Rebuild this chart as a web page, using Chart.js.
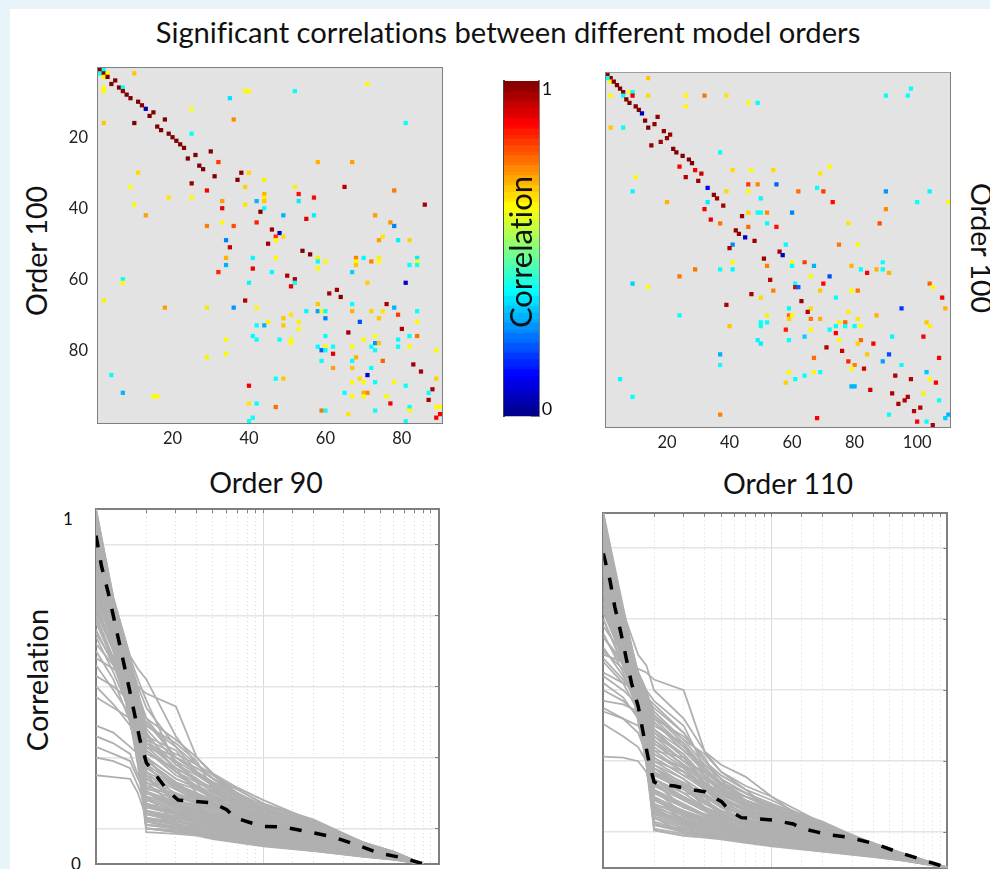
<!DOCTYPE html>
<html>
<head>
<meta charset="utf-8">
<script src="https://cdn.jsdelivr.net/npm/chart.js@4/dist/chart.umd.js"></script>
<style>
  html, body { margin: 0; padding: 0; background: #e9f3fa; overflow: hidden; }
  #page { position: absolute; left: 10px; top: 9px; width: 980px; height: 860px; background: #fff; }
  canvas { position: absolute; }
  .label { position: absolute; font-family: Lato, sans-serif; font-variant-ligatures: none; color: #111; white-space: nowrap; transform: translate(-50%, -50%); }
  .up { transform: translate(-50%, -50%) rotate(-90deg); }
  .down { transform: translate(-50%, -50%) rotate(90deg); }
</style>
</head>
<body>
<div id="page"></div>
<canvas id="heatLeft" width="394" height="393" style="left:58px;top:60px"></canvas>
<canvas id="heatRight" width="394" height="397" style="left:566px;top:60px"></canvas>
<canvas id="colorBar" width="60" height="351" style="left:494px;top:73px"></canvas>
<canvas id="curvesLeft" width="360" height="369" style="left:90px;top:500px"></canvas>
<canvas id="curvesRight" width="360" height="369" style="left:597px;top:500px"></canvas>
<div class="label" style="left:508px;top:31px;font-size:29.2px">Significant correlations between different model orders</div>
<div class="label up" style="left:36px;top:251px;font-size:28.5px">Order 100</div>
<div class="label down" style="left:982px;top:248px;font-size:28.5px">Order 100</div>
<div class="label" style="left:266px;top:482px;font-size:28.5px">Order 90</div>
<div class="label" style="left:788px;top:483px;font-size:28.5px">Order 110</div>
<div class="label up" style="left:36px;top:680px;font-size:29px">Correlation</div>
<div class="label up" style="left:520px;top:252px;font-size:31px">Correlation</div>
<div class="label" style="left:547px;top:88px;font-size:18px">1</div>
<div class="label" style="left:547px;top:408px;font-size:18px">0</div>
<div class="label" style="left:68px;top:518px;font-size:17px">1</div>
<div class="label" style="left:76px;top:863px;font-size:17px">0</div>
<script>
// significant cells: [column, row, correlation]
var leftCells = [
  [1,1,.98],[2,1,.38],[1,2,.4],[2,2,1],[3,2,.63],[10,2,.68],[2,3,.63],[3,3,1],[5,4,1],[4,5,1],[71,5,.63],
  [2,6,.63],[6,6,1],[7,6,.38],[2,7,.63],[7,7,.98],[39,7,.63],[40,7,.63],[52,7,.38],[8,8,1],[9,9,1],[35,9,.35],
  [11,10,1],[12,11,1],[13,12,.05],[25,12,.62],[15,13,1],[14,14,1],[18,15,1],[36,15,.74],[2,16,.68],[10,16,1],
  [81,16,.38],[16,17,1],[17,18,1],[19,19,1],[25,19,.38],[20,20,1],[21,21,1],[22,22,1],[23,23,1],[30,24,1],
  [26,25,1],[24,26,1],[32,27,.82],[58,27,.7],[67,27,.72],[27,28,1],[28,29,1],[11,30,.66],[38,30,1],[40,30,.66],
  [31,31,1],[37,32,1],[44,32,.64],[25,33,.98],[9,34,.62],[39,34,.67],[52,34,.64],[65,34,.95],[29,35,.88],[78,35,.76],
  [44,36,.7],[53,36,.86],[19,37,.65],[25,37,.63],[44,37,.64],[57,37,.87],[33,38,.72],[42,38,.3],[44,38,.68],[53,38,.36],
  [10,39,.63],[39,39,.65],[86,39,.96],[33,40,.9],[44,40,.38],[43,41,1],[13,42,.72],[49,42,.3],[57,42,.36],[73,42,.72],
  [55,43,.9],[33,44,.63],[42,44,.85],[77,44,.73],[29,45,.75],[36,45,.8],[78,45,.25],[46,46,.97],[48,47,.06],[47,48,.83],
  [49,48,.66],[75,48,.65],[34,49,.25],[47,49,.63],[74,49,.72],[79,49,.36],[82,49,.67],[45,50,.97],[35,51,.93],[54,52,1],
  [56,53,1],[34,54,.7],[41,54,.37],[47,54,.63],[58,54,.64],[68,54,.75],[70,54,.37],[74,54,.64],[84,54,.36],[58,55,.38],
  [60,55,.63],[68,55,.63],[72,55,.75],[74,55,.63],[84,55,.62],[34,56,.3],[68,56,.68],[82,56,.38],[84,56,.4],[41,57,.9],
  [58,57,.63],[32,58,.84],[46,58,.37],[67,58,.33],[50,59,.95],[7,60,.38],[52,60,.96],[7,61,.63],[40,61,.37],[52,61,.38],
  [71,61,.67],[81,61,.08],[51,62,.9],[63,63,.97],[61,64,.96],[64,65,1],[2,66,.64],[39,66,.95],[58,67,.68],[67,67,.38],
  [76,67,.96],[18,68,.72],[29,68,.65],[36,68,.27],[42,68,.63],[78,68,.3],[55,69,.37],[58,69,.28],[59,69,.63],[60,69,.38],
  [67,69,.7],[72,69,.67],[75,69,.65],[84,69,.38],[51,70,.65],[79,70,.82],[49,71,.68],[60,71,.25],[74,71,.68],[45,72,.64],
  [53,72,.64],[69,72,.2],[84,72,.63],[42,73,.38],[44,73,.3],[49,73,.68],[53,74,.63],[80,74,.95],[66,75,.97],[41,76,.37],
  [60,76,.38],[73,76,.62],[82,76,.38],[84,76,.76],[34,77,.63],[42,77,.38],[48,77,.38],[51,77,.63],[70,77,.63],[79,77,.38],
  [51,78,.63],[73,78,.27],[74,78,.68],[58,79,.38],[60,79,.63],[62,79,.38],[67,79,.63],[72,79,.38],[79,79,.38],[82,79,.63],
  [59,80,.22],[60,80,.38],[73,80,.38],[89,80,.63],[62,81,.9],[34,81,.63],[29,82,.64],[68,82,.7],[59,83,.38],[67,83,.38],
  [75,83,.78],[83,84,.97],[62,85,.72],[67,85,.68],[72,85,.38],[85,86,.96],[4,87,.38],[71,87,.08],[47,88,.38],[49,88,.68],
  [69,88,.66],[89,88,.67],[67,89,.63],[70,89,.63],[73,89,.38],[78,89,.63],[40,90,.89],[81,90,.38],[88,91,.96],[7,92,.3],
  [65,92,.38],[70,92,.7],[71,92,.74],[87,92,.38],[15,93,.63],[16,93,.63],[67,93,.63],[70,93,.63],[76,93,.63],[87,94,.96],
  [40,95,.65],[42,95,.38],[77,95,.88],[47,96,.77],[82,96,.38],[89,96,.63],[90,96,.63],[59,97,.76],[60,97,.38],[73,97,.38],
  [82,97,.63],[66,98,.65],[90,98,.88],[41,99,.38],[89,99,.88],[40,100,.38],[81,100,.38]
];
var rightCells = [
  [1,1,.98],[2,2,1],[1,2,.38],[14,2,.68],[2,3,.63],[3,3,1],[4,4,1],[5,5,1],[98,5,.38],[6,6,1],[8,6,.63],[9,6,.38],
  [2,7,.63],[6,7,.38],[9,7,.9],[14,7,.66],[26,7,.63],[32,7,.76],[39,7,.65],[90,7,.38],[97,7,.38],[7,8,1],[8,9,1],[46,9,.63],
  [49,9,.38],[10,10,1],[26,10,.63],[11,11,1],[12,12,.05],[17,13,.98],[13,14,1],[16,15,.98],[14,16,1],[2,16,.68],[6,16,.38],
  [19,17,.98],[21,18,.97],[20,19,.98],[18,20,.97],[15,21,.98],[22,22,1],[23,23,1],[37,23,.38],[25,24,1],[27,25,1],[28,26,1],
  [24,27,.88],[72,27,.63],[29,28,.88],[41,28,.66],[47,28,.63],[54,28,.66],[31,29,.93],[69,29,.65],[10,30,.63],[26,30,.95],
  [30,31,.97],[46,32,.82],[49,32,.74],[55,32,.22],[33,33,.12],[68,33,.38],[9,34,.37],[39,34,.66],[46,34,.63],[62,34,.77],
  [70,34,.82],[90,34,.27],[104,34,.37],[35,35,.98],[36,36,.97],[50,36,.37],[20,37,.7],[33,37,.36],[73,37,.87],[100,37,.38],
  [110,37,.63],[38,38,.97],[32,39,.88],[90,39,.74],[46,40,.67],[49,40,.38],[50,40,.38],[52,40,.74],[60,40,.25],[44,41,.97],
  [34,42,.9],[37,43,.76],[52,43,.38],[78,43,.65],[88,43,.8],[46,44,.77],[55,44,.86],[42,45,.98],[43,46,.98],[45,47,.06],
  [48,48,.97],[41,49,.26],[58,49,.37],[75,49,.76],[81,49,.63],[40,50,.96],[56,51,.96],[57,52,.06],[51,53,.97],[41,54,.63],
  [60,54,.63],[64,54,.82],[89,54,.38],[52,55,.75],[60,55,.38],[67,55,.3],[79,55,.7],[29,56,.76],[37,56,.38],[41,56,.37],
  [82,56,.38],[87,56,.7],[89,56,.38],[84,57,.88],[91,57,.7],[24,58,.76],[66,58,.63],[72,58,.2],[53,59,.95],[9,60,.33],
  [61,60,.38],[70,60,.87],[104,60,.78],[14,61,.63],[61,61,.9],[62,61,.22],[105,61,.63],[54,62,.75],[69,62,.68],[79,62,.63],
  [81,62,.76],[47,63,.96],[50,64,.66],[74,64,.38],[108,64,.88],[63,65,.97],[39,66,.95],[59,67,.37],[66,67,.66],[95,67,.18],
  [109,67,.7],[65,68,.95],[78,68,.64],[24,69,.38],[52,69,.64],[59,69,.77],[60,69,.63],[87,69,.7],[59,70,.67],[66,70,.76],
  [69,70,.7],[81,70,.65],[50,71,.38],[52,71,.38],[75,71,.64],[77,71,.78],[103,71,.68],[40,72,.68],[50,72,.38],[74,72,.38],
  [77,72,.38],[80,72,.38],[82,72,.63],[104,72,.64],[58,73,.85],[66,73,.63],[72,73,.38],[74,74,.88],[64,75,.33],[92,75,.37],
  [102,75,.88],[49,76,.37],[59,76,.38],[75,76,.63],[82,76,.78],[50,77,.36],[81,77,.67],[86,77,.88],[71,78,.95],[76,79,.93],
  [37,80,.3],[84,80,.68],[91,80,.2],[67,81,.77],[107,81,.88],[78,82,.84],[89,82,.28],[37,83,.38],[80,83,.75],[95,83,.38],
  [79,84,.63],[83,84,.92],[59,85,.63],[67,85,.63],[69,85,.38],[103,85,.32],[93,86,.95],[64,86,.38],[5,87,.37],[61,87,.38],
  [98,87,.95],[104,87,.63],[58,88,.67],[106,88,.88],[79,89,.3],[80,89,.3],[85,90,.93],[92,91,.95],[102,91,.64],[9,92,.38],
  [97,92,.95],[96,93,.95],[107,93,.38],[94,94,.95],[101,95,.95],[99,96,.94],[37,97,.75],[91,97,.38],[110,97,.3],[68,98,.88],
  [109,98,.33],[100,99,.88],[103,99,.38],[105,100,.95]
];

var xTicksLeft = [20, 40, 60, 80];
var xTicksRight = [20, 40, 60, 80, 100];
var yTicksHeat = [20, 40, 60, 80];
var corrGrid = [.1, .3, .5, .7, .9];

var colorLevels = [
  .01,.02,.04,.05,.07,.09,.10,.12,.13,.15,.16,.18,.20,.21,.23,.24,
  .26,.27,.29,.30,.32,.34,.35,.37,.38,.40,.41,.43,.45,.46,.48,.49,
  .51,.52,.54,.55,.57,.59,.60,.62,.63,.65,.66,.68,.70,.71,.73,.74,
  .76,.77,.79,.80,.82,.84,.85,.87,.88,.90,.91,.93,.95,.96,.98,.99
];

// sorted correlations per component, order 90
var rankLeft = [1, 1.27, 1.6, 1.78, 2, 3, 4, 5, 7, 10, 20, 40, 60, 90];
var curvesLeft = [
  [.98,.72,.42,.28,.09,.085,.08,.07,.06,.05,.036,.02,.012,0],
  [.96,.70,.40,.30,.10,.09,.082,.072,.062,.052,.037,.021,.013,0],
  [.97,.74,.45,.30,.10,.095,.09,.078,.066,.055,.04,.022,.014,0],
  [.93,.68,.44,.30,.11,.10,.09,.08,.07,.058,.04,.023,.014,0],
  [.99,.73,.47,.32,.12,.10,.095,.085,.072,.06,.043,.024,.015,0],
  [.90,.66,.42,.30,.125,.11,.10,.09,.075,.062,.045,.025,.015,0],
  [.95,.71,.46,.33,.13,.115,.10,.09,.08,.065,.046,.026,.016,0],
  [.88,.65,.43,.31,.14,.12,.11,.095,.082,.068,.048,.027,.016,0],
  [.92,.69,.48,.35,.145,.13,.115,.10,.085,.07,.05,.028,.017,0],
  [.85,.63,.41,.30,.15,.135,.12,.105,.088,.072,.052,.029,.017,0],
  [.97,.72,.50,.36,.16,.14,.125,.11,.09,.075,.053,.03,.018,0],
  [.80,.62,.42,.31,.165,.145,.13,.115,.095,.078,.055,.03,.018,0],
  [.94,.70,.49,.38,.17,.15,.135,.12,.10,.08,.056,.031,.019,0],
  [.77,.61,.44,.33,.18,.155,.14,.125,.103,.083,.058,.032,.019,0],
  [.91,.68,.51,.40,.185,.16,.145,.13,.107,.085,.06,.033,.02,0],
  [1.0,.74,.53,.39,.19,.165,.15,.13,.11,.088,.062,.034,.02,0],
  [.86,.67,.47,.36,.20,.17,.155,.135,.113,.09,.064,.035,.021,0],
  [.74,.60,.43,.33,.205,.175,.16,.14,.115,.092,.066,.036,.021,0],
  [.96,.72,.52,.42,.215,.18,.165,.145,.12,.095,.068,.037,.022,0],
  [.82,.64,.46,.36,.22,.19,.17,.15,.125,.098,.07,.038,.022,0],
  [.68,.57,.42,.35,.23,.195,.175,.155,.128,.10,.072,.039,.023,0],
  [.89,.68,.50,.41,.24,.20,.18,.16,.13,.105,.074,.04,.023,0],
  [.64,.54,.43,.34,.25,.21,.185,.165,.135,.11,.076,.041,.024,0],
  [.93,.70,.54,.44,.26,.215,.19,.17,.14,.112,.078,.042,.024,0],
  [.60,.52,.40,.33,.27,.22,.195,.175,.145,.115,.08,.043,.025,0],
  [.78,.62,.47,.38,.28,.225,.20,.18,.15,.118,.082,.044,.025,0],
  [.56,.49,.42,.36,.29,.23,.21,.185,.155,.12,.085,.045,.026,0],
  [.98,.73,.55,.46,.30,.24,.215,.19,.16,.125,.088,.046,.026,0],
  [.50,.45,.39,.34,.30,.24,.215,.195,.165,.13,.09,.047,.027,0],
  [.71,.60,.49,.40,.32,.25,.22,.20,.17,.135,.092,.048,.028,0],
  [.66,.56,.44,.38,.33,.26,.23,.205,.175,.14,.095,.05,.029,0],
  [.84,.66,.52,.44,.34,.27,.24,.21,.18,.145,.10,.052,.03,0],
  [.47,.44,.41,.38,.35,.27,.235,.215,.185,.15,.105,.054,.031,0],
  [.62,.56,.50,.42,.36,.28,.25,.22,.19,.155,.11,.056,.032,0],
  [.90,.70,.56,.47,.38,.29,.255,.225,.195,.16,.115,.058,.034,0],
  [.53,.50,.46,.42,.40,.30,.26,.23,.20,.165,.12,.06,.035,0],
  [1.0,.75,.585,.55,.52,.36,.28,.24,.21,.17,.125,.06,.035,0],
  [.58,.55,.52,.50,.48,.444,.30,.255,.215,.18,.12,.055,.03,0],
  [.39,.37,.33,.31,.27,.22,.19,.17,.14,.11,.08,.04,.025,0],
  [.33,.31,.29,.24,.20,.17,.15,.13,.11,.09,.065,.035,.02,0],
  [.30,.29,.27,.22,.16,.14,.13,.115,.10,.08,.055,.03,.018,0],
  [.25,.245,.24,.20,.13,.12,.105,.095,.08,.065,.05,.028,.016,0],
  [.36,.34,.31,.25,.18,.15,.13,.12,.10,.085,.06,.032,.018,0],
  [.69,.58,.46,.36,.15,.13,.12,.105,.09,.075,.05,.028,.016,0],
  [.76,.62,.40,.28,.11,.10,.09,.08,.068,.055,.04,.022,.014,0],
  [.99,.74,.50,.33,.14,.125,.11,.10,.085,.068,.048,.026,.016,0],
  [.97,.73,.48,.30,.10,.09,.085,.075,.064,.053,.038,.021,.013,0],
  [.94,.71,.52,.37,.17,.145,.13,.115,.098,.08,.056,.03,.018,0],
  [.87,.66,.45,.32,.12,.105,.095,.085,.072,.06,.042,.024,.015,0],
  [.95,.72,.49,.34,.20,.16,.145,.13,.105,.088,.06,.033,.02,0],
  [.97,.74,.57,.50,.44,.33,.26,.22,.17,.13,.085,.05,.03,0],
  [.92,.72,.56,.48,.41,.30,.27,.24,.20,.15,.09,.045,.028,0],
  [.99,.75,.58,.52,.46,.28,.24,.20,.18,.16,.11,.055,.032,0],
  [.88,.70,.55,.47,.39,.34,.29,.21,.16,.12,.08,.04,.024,0],
  [.95,.73,.56,.49,.36,.32,.25,.23,.19,.14,.095,.05,.03,0],
  [.84,.68,.54,.45,.37,.26,.22,.19,.15,.12,.075,.038,.023,0],
  [.91,.72,.55,.46,.35,.31,.28,.25,.21,.17,.115,.058,.034,0],
  [.79,.64,.52,.44,.33,.29,.23,.17,.14,.10,.07,.035,.021,0],
  [.96,.73,.53,.43,.31,.27,.20,.16,.13,.09,.06,.032,.02,0],
  [.86,.69,.51,.41,.29,.23,.19,.18,.16,.14,.10,.05,.03,0],
  [.75,.62,.50,.42,.30,.21,.18,.15,.12,.085,.055,.03,.018,0],
  [.93,.71,.50,.40,.28,.19,.17,.16,.14,.125,.09,.045,.027,0],
  [.72,.60,.48,.39,.26,.18,.16,.14,.115,.095,.07,.037,.022,0],
  [.98,.74,.49,.38,.25,.17,.14,.12,.11,.10,.075,.04,.024,0],
  [.83,.66,.47,.37,.23,.16,.15,.14,.13,.11,.082,.044,.026,0],
  [.90,.69,.46,.36,.21,.20,.17,.12,.10,.083,.058,.03,.018,0],
  [.70,.58,.45,.35,.24,.18,.13,.11,.09,.07,.05,.027,.017,0],
  [.94,.71,.47,.35,.19,.12,.11,.10,.09,.085,.065,.035,.021,0],
  [.81,.65,.44,.34,.17,.14,.12,.11,.10,.09,.068,.036,.022,0],
  [.88,.67,.45,.33,.19,.17,.15,.135,.12,.10,.07,.038,.023,0],
  [.73,.60,.41,.32,.14,.13,.12,.115,.10,.087,.065,.034,.02,0],
  [.96,.72,.44,.31,.13,.11,.105,.095,.09,.08,.06,.033,.02,0],
  [.78,.63,.40,.29,.11,.105,.10,.09,.08,.07,.05,.027,.016,0],
  [.99,.73,.43,.29,.10,.095,.085,.08,.07,.065,.047,.025,.015,0],
  [.91,.68,.43,.30,.16,.15,.14,.12,.11,.095,.072,.04,.024,0],
  [.85,.65,.48,.39,.27,.22,.20,.17,.15,.135,.095,.048,.029,0],
  [.77,.62,.49,.41,.32,.26,.21,.19,.17,.15,.105,.052,.031,0],
  [.98,.73,.54,.47,.34,.30,.26,.23,.20,.16,.105,.053,.031,0],
  [.87,.68,.53,.45,.39,.33,.28,.24,.19,.155,.10,.05,.03,0],
  [.65,.57,.51,.46,.41,.35,.30,.25,.20,.14,.085,.042,.026,0]
];
var meanXLeft = [1, 1.08, 1.185, 1.27, 1.378, 1.6, 1.83, 2, 2.7, 3.1, 5, 6.04, 6.77, 8.3, 10, 13.2, 19, 26.2, 36.1, 48.7, 68.6, 90.4];
var meanLeft = [.925, .838, .763, .698, .623, .482, .35, .285, .205, .18, .172, .153, .13, .117, .106, .104, .09, .076, .054, .031, .017, 0];

// same for order 110
var rankRight = [1, 1.31, 1.61, 1.8, 2, 3, 4, 5, 7, 10, 20, 40, 60, 110];
var curvesRight = [
  [.98,.66,.42,.29,.105,.09,.085,.08,.07,.06,.045,.03,.02,0],
  [.95,.65,.41,.30,.11,.095,.088,.082,.072,.062,.046,.031,.021,0],
  [.90,.62,.44,.31,.12,.10,.09,.084,.075,.065,.048,.032,.022,0],
  [.97,.68,.46,.31,.13,.105,.095,.088,.078,.067,.05,.033,.022,0],
  [.86,.60,.42,.32,.14,.11,.10,.09,.08,.07,.052,.034,.023,0],
  [.93,.67,.48,.33,.15,.12,.105,.095,.084,.072,.054,.035,.023,0],
  [.82,.61,.44,.34,.16,.125,.11,.10,.088,.075,.056,.036,.024,0],
  [1.0,.70,.49,.35,.165,.13,.115,.105,.09,.078,.058,.037,.025,0],
  [.78,.59,.43,.34,.17,.14,.125,.11,.095,.08,.06,.038,.025,0],
  [.91,.66,.50,.37,.18,.145,.13,.115,.098,.083,.062,.04,.026,0],
  [.74,.58,.45,.36,.19,.15,.135,.12,.102,.086,.064,.041,.026,0],
  [.96,.70,.52,.40,.20,.16,.14,.125,.106,.09,.066,.043,.027,0],
  [.70,.57,.46,.38,.21,.17,.145,.13,.11,.093,.068,.044,.028,0],
  [.88,.66,.51,.41,.22,.18,.15,.135,.115,.096,.07,.046,.028,0],
  [.66,.55,.44,.37,.23,.19,.16,.14,.12,.10,.073,.047,.029,0],
  [.99,.71,.53,.43,.24,.20,.165,.145,.125,.105,.076,.049,.03,0],
  [.62,.54,.46,.39,.25,.21,.17,.15,.13,.11,.08,.05,.031,0],
  [.84,.64,.50,.42,.26,.22,.18,.155,.135,.115,.083,.052,.032,0],
  [.58,.52,.44,.38,.27,.23,.19,.16,.14,.12,.086,.054,.033,0],
  [.94,.68,.53,.45,.28,.24,.20,.17,.145,.125,.09,.056,.034,0],
  [.54,.50,.46,.41,.30,.25,.21,.175,.15,.13,.093,.058,.035,0],
  [.80,.62,.48,.42,.31,.26,.22,.18,.155,.135,.096,.06,.036,0],
  [.50,.47,.43,.38,.32,.27,.22,.19,.16,.14,.10,.062,.037,0],
  [1.0,.735,.54,.46,.34,.28,.23,.20,.165,.145,.105,.064,.038,0],
  [.47,.46,.44,.40,.35,.29,.24,.21,.17,.15,.11,.066,.039,0],
  [.72,.60,.50,.44,.37,.30,.25,.22,.18,.155,.115,.068,.04,0],
  [.61,.56,.48,.45,.39,.31,.26,.225,.19,.16,.12,.069,.04,0],
  [.76,.63,.54,.49,.41,.33,.27,.23,.20,.17,.125,.069,.04,0],
  [.68,.60,.55,.50,.43,.35,.28,.24,.21,.18,.13,.065,.04,0],
  [.55,.52,.50,.48,.45,.38,.30,.26,.22,.19,.12,.06,.035,0],
  [.89,.72,.60,.57,.50,.42,.327,.27,.23,.20,.125,.065,.038,0],
  [.60,.58,.56,.55,.53,.50,.327,.29,.256,.20,.097,.06,.035,0],
  [.405,.37,.34,.30,.21,.17,.15,.135,.11,.095,.07,.045,.028,0],
  [.313,.31,.30,.27,.18,.15,.13,.12,.10,.085,.062,.04,.026,0],
  [.45,.42,.38,.32,.19,.155,.135,.125,.105,.09,.065,.042,.027,0],
  [.52,.48,.42,.35,.25,.20,.17,.15,.125,.105,.075,.048,.03,0],
  [.98,.69,.47,.33,.125,.10,.092,.085,.075,.064,.048,.032,.021,0],
  [.92,.64,.45,.32,.145,.115,.102,.092,.082,.07,.052,.034,.023,0],
  [.87,.63,.47,.36,.175,.135,.12,.108,.092,.08,.059,.038,.025,0],
  [.96,.69,.50,.38,.155,.125,.112,.10,.086,.074,.055,.036,.024,0],
  [.83,.62,.49,.40,.215,.175,.15,.13,.112,.095,.07,.045,.028,0],
  [.99,.72,.51,.39,.195,.155,.14,.122,.104,.088,.065,.042,.027,0],
  [.75,.60,.47,.40,.235,.195,.165,.145,.122,.102,.075,.048,.03,0],
  [.85,.65,.52,.44,.265,.225,.185,.16,.138,.118,.085,.053,.033,0],
  [.73,.59,.50,.42,.29,.235,.205,.175,.148,.128,.092,.057,.035,0],
  [.90,.68,.55,.47,.33,.27,.225,.195,.162,.142,.102,.063,.038,0],
  [.59,.53,.47,.43,.36,.285,.24,.205,.175,.15,.108,.065,.04,0],
  [.65,.57,.51,.46,.38,.32,.255,.215,.185,.158,.112,.067,.04,0],
  [.95,.70,.55,.49,.42,.34,.275,.235,.20,.165,.118,.068,.04,0],
  [.44,.42,.40,.36,.28,.22,.18,.16,.135,.112,.082,.05,.032,0],
  [.97,.70,.52,.48,.46,.38,.30,.25,.21,.17,.11,.065,.038,0],
  [.92,.68,.53,.49,.44,.36,.32,.27,.22,.16,.10,.06,.035,0],
  [.99,.72,.55,.50,.47,.40,.28,.24,.19,.15,.12,.068,.04,0],
  [.88,.66,.51,.47,.42,.37,.31,.23,.18,.14,.095,.055,.034,0],
  [.95,.71,.54,.48,.40,.35,.26,.22,.20,.175,.115,.066,.039,0],
  [.84,.64,.50,.46,.39,.33,.29,.25,.17,.13,.09,.052,.032,0],
  [.91,.69,.52,.46,.37,.32,.24,.21,.19,.16,.105,.062,.036,0],
  [.79,.62,.49,.45,.36,.30,.27,.20,.16,.125,.085,.05,.03,0],
  [.96,.70,.51,.44,.35,.29,.25,.19,.15,.12,.08,.048,.03,0],
  [.86,.65,.49,.43,.33,.31,.23,.21,.18,.15,.10,.058,.035,0],
  [.75,.60,.47,.42,.32,.28,.22,.18,.14,.11,.078,.046,.029,0],
  [.93,.68,.48,.41,.31,.26,.24,.17,.13,.10,.072,.044,.028,0],
  [.72,.59,.45,.40,.29,.25,.19,.16,.13,.105,.078,.047,.029,0],
  [.98,.71,.50,.41,.28,.23,.17,.15,.12,.095,.07,.043,.027,0],
  [.83,.63,.46,.39,.27,.21,.20,.14,.12,.10,.075,.046,.029,0],
  [.90,.66,.47,.38,.25,.19,.16,.13,.11,.09,.066,.04,.026,0],
  [.70,.57,.44,.37,.24,.17,.15,.14,.125,.11,.08,.05,.03,0],
  [.94,.69,.48,.37,.22,.15,.13,.12,.105,.09,.067,.042,.027,0],
  [.81,.62,.45,.35,.20,.13,.12,.11,.10,.085,.062,.04,.026,0],
  [.88,.65,.46,.35,.19,.16,.14,.125,.11,.097,.072,.047,.029,0],
  [.73,.58,.43,.33,.17,.12,.11,.10,.09,.08,.058,.037,.024,0],
  [.96,.68,.45,.33,.15,.14,.125,.115,.095,.082,.06,.039,.025,0],
  [.78,.60,.42,.31,.14,.10,.095,.09,.082,.07,.052,.034,.023,0],
  [.99,.69,.44,.31,.12,.11,.10,.09,.08,.068,.05,.033,.022,0],
  [.91,.65,.43,.30,.16,.135,.12,.11,.10,.088,.066,.042,.027,0],
  [.85,.63,.47,.39,.26,.23,.20,.17,.15,.13,.09,.055,.034,0],
  [.77,.60,.48,.41,.30,.27,.23,.19,.165,.14,.10,.06,.037,0],
  [.98,.71,.53,.46,.38,.31,.26,.22,.19,.165,.11,.064,.038,0],
  [.87,.66,.52,.47,.41,.34,.28,.24,.20,.17,.115,.066,.039,0],
  [.65,.58,.50,.46,.43,.36,.29,.25,.21,.18,.12,.067,.04,0]
];
var meanXRight = [1, 1.095, 1.17, 1.267, 1.375, 1.472, 1.613, 1.727, 1.874, 2, 2.12, 2.66, 3.12, 4, 4.29, 5.03, 5.64, 6.6, 7.75, 10.2, 13.4, 15, 18.4, 21.1, 29, 41.8, 57.4, 78.9, 110];
var meanRight = [.885, .81, .735, .665, .585, .519, .4535, .378, .294, .242, .235, .23, .2225, .214, .205, .186, .16, .141, .139, .134, .123, .111, .101, .094, .085, .066, .042, .022, 0];

var frameColor = '#7f7f7f';
var tickFont = { family: 'Lato, sans-serif', size: 16.5 };

// jet colour map
function jet(v) {
  var c = function (d) { return Math.round(255 * Math.max(0, Math.min(1, 1.5 - Math.abs(4 * v - d)))) };
  return 'rgb(' + c(3) + ',' + c(2) + ',' + c(1) + ')';
}

// fixed axis size, and no extra room for overhanging labels
function fixSize(size) {
  return function (scale) {
    if (scale.isHorizontal()) scale.height = size; else scale.width = size;
    scale.paddingLeft = scale.paddingRight = scale.paddingTop = scale.paddingBottom = 0;
  };
}

function setTicks(values) {
  return function (scale) {
    scale.ticks = values.map(function (v) { return { value: v } });
  };
}

function frameAxis(position, extra) {
  var axis = {
    type: 'linear',
    position: position,
    afterFit: fixSize(0),
    ticks: { display: false },
    grid: { drawOnChartArea: false, drawTicks: true, tickLength: -4, color: frameColor },
    border: { color: frameColor, width: 2 }
  };
  return Object.assign(axis, extra);
}

// grey plot background
var plotBackground = {
  id: 'plotBackground',
  beforeDatasetsDraw: function (chart) {
    var a = chart.chartArea;
    chart.ctx.fillStyle = '#e3e3e3';
    chart.ctx.fillRect(a.left, a.top, a.width, a.height);
  }
};

function heatChart(id, cells, nCols, xTicks, showY, top) {
  new Chart(document.getElementById(id), {
    type: 'scatter',
    plugins: [plotBackground],
    data: {
      datasets: [{
        data: cells.map(function (c) { return { x: c[0], y: c[1] } }),
        pointStyle: 'rect',
        pointRadius: 3,
        pointBorderWidth: 0,
        pointBackgroundColor: cells.map(function (c) { return jet(c[2]) })
      }]
    },
    options: {
      responsive: false,
      animation: false,
      layout: { padding: { left: 0, top: top, right: 10, bottom: 0 } },
      plugins: { legend: { display: false }, tooltip: { enabled: false } },
      scales: {
        x: {
          type: 'linear', min: .5, max: nCols + .5,
          afterBuildTicks: setTicks(xTicks),
          afterFit: fixSize(30),
          ticks: { color: '#222', font: tickFont, padding: 10, maxRotation: 0, autoSkip: false },
          grid: { drawOnChartArea: false, tickLength: -4, color: frameColor },
          border: { color: frameColor, width: 2 }
        },
        y: {
          type: 'linear', reverse: true, min: .5, max: 100.5,
          afterBuildTicks: setTicks(yTicksHeat),
          afterFit: fixSize(40),
          ticks: { display: showY, color: '#222', font: tickFont, padding: 14, autoSkip: false },
          grid: { drawOnChartArea: false, tickLength: -4, color: frameColor },
          border: { color: frameColor, width: 2 }
        },
        xTop: frameAxis('top', { min: .5, max: nCols + .5, afterBuildTicks: setTicks(xTicks) }),
        yRight: frameAxis('right', { reverse: true, min: .5, max: 100.5, afterBuildTicks: setTicks(yTicksHeat) })
      }
    }
  });
}

function curveChart(id, rank, curves, meanX, mean, xMax, padding) {
  var sets = curves.map(function (row) {
    return {
      data: row.map(function (v, i) { return { x: rank[i], y: v } }),
      borderColor: '#b0b0b0',
      borderWidth: 1.8,
      pointRadius: 0,
      order: 1
    };
  });
  sets.push({
    data: mean.map(function (v, i) { return { x: meanX[i], y: v } }),
    borderColor: '#000',
    borderWidth: 3.5,
    borderDash: [12, 13],
    pointRadius: 0,
    order: 0
  });
  var logTicks = function (scale) {
    scale.ticks = scale.ticks.filter(function (t) { return t.value > 1 && t.value < xMax });
  };
  new Chart(document.getElementById(id), {
    type: 'scatter',
    data: { datasets: sets },
    options: {
      responsive: false,
      animation: false,
      showLine: true,
      layout: { padding: padding },
      plugins: { legend: { display: false }, tooltip: { enabled: false } },
      scales: {
        x: {
          type: 'logarithmic', min: 1, max: xMax,
          afterBuildTicks: logTicks,
          afterFit: fixSize(0),
          ticks: { display: false, autoSkip: false },
          grid: { color: '#d9d9d9', drawTicks: false },
          border: { color: frameColor, width: 2, dash: function (c) { return c.tick && c.tick.value === 10 ? [] : [1, 3] } }
        },
        y: {
          type: 'linear', min: 0, max: 1,
          afterBuildTicks: setTicks(corrGrid),
          afterFit: fixSize(0),
          ticks: { display: false, autoSkip: false },
          grid: { color: '#e4e4e4', lineWidth: 1.5, drawTicks: false },
          border: { color: frameColor, width: 2 }
        },
        xTop: frameAxis('top', { type: 'logarithmic', min: 1, max: xMax, afterBuildTicks: logTicks, ticks: { display: false, autoSkip: false } }),
        yRight: frameAxis('right', { min: 0, max: 1, afterBuildTicks: setTicks(corrGrid) })
      }
    }
  });
}

heatChart('heatLeft', leftCells, 90, xTicksLeft, true, 8);
heatChart('heatRight', rightCells, 110, xTicksRight, false, 12.7);
curveChart('curvesLeft', rankLeft, curvesLeft, meanXLeft, meanLeft, 112, { left: 6, top: 9, right: 11, bottom: 5 });
curveChart('curvesRight', rankRight, curvesRight, meanXRight, meanRight, 110, { left: 6.3, top: 12.7, right: 9.7, bottom: 1.3 });

// colour bar
new Chart(document.getElementById('colorBar'), {
  type: 'bar',
  data: {
    labels: colorLevels,
    datasets: [{
      data: colorLevels.map(function (v) { return { x: 1, y: v } }),
      backgroundColor: colorLevels.map(jet),
      borderWidth: 0,
      barThickness: 7
    }]
  },
  options: {
    responsive: false,
    animation: false,
    indexAxis: 'y',
    layout: { padding: { left: 10, top: 8, right: 15, bottom: 8 } },
    plugins: { legend: { display: false }, tooltip: { enabled: false } },
    scales: {
      x: { type: 'linear', min: 0, max: 1, afterFit: fixSize(0), ticks: { display: false }, grid: { display: false }, border: { color: frameColor, width: 1.5 } },
      y: { type: 'linear', offset: false, min: 0, max: 1, afterFit: fixSize(0), ticks: { display: false }, grid: { display: false }, border: { color: '#444', width: 2 } },
      yRight: frameAxis('right', { min: 0, max: 1, ticks: { display: false, stepSize: .1 }, grid: { drawOnChartArea: false, tickLength: -8, color: 'rgba(80,0,0,.6)' } })
    }
  }
});
</script>
</body>
</html>
